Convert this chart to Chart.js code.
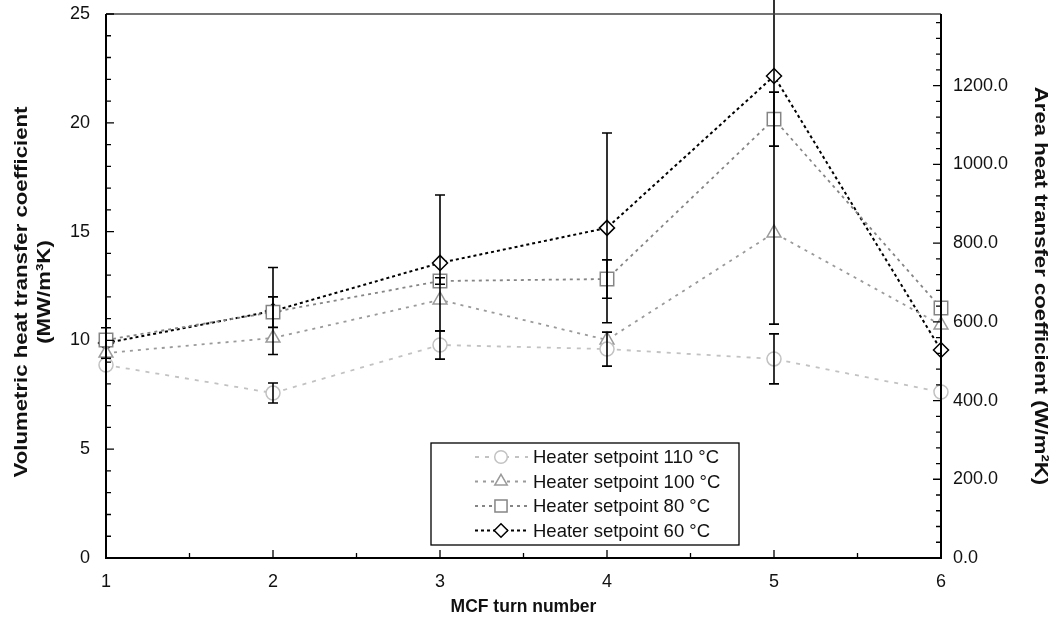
<!DOCTYPE html>
<html>
<head>
<meta charset="utf-8">
<title>MCF heat transfer coefficient</title>
<script src="https://cdn.jsdelivr.net/npm/chart.js@4"></script>
<style>
  html, body { margin: 0; padding: 0; background: #fff; }
  canvas { display: block; }
</style>
</head>
<body>
<canvas id="htcChart" width="1056" height="623"></canvas>
<script>
// turn numbers on the x axis
const turns = [1, 2, 3, 4, 5, 6];

// volumetric heat transfer coefficient (MW/m3K) per heater setpoint
const hts110 = [8.87, 7.58, 9.79, 9.60, 9.15, 7.63];
const hts100 = [9.42, 10.11, 11.86, 10.02, 14.94, 10.71];
const hts80 = [10.02, 11.30, 12.73, 12.82, 20.17, 11.49];
const hts60 = [9.88, 11.35, 13.56, 15.17, 22.15, 9.56];

// +/- error on each point (0 = no bar)
const err110 = [0, 0.46, 0.65, 0.78, 1.15, 0];
const err100 = [0, 0, 0, 0, 0, 0];
const err80 = [0, 0.70, 0.15, 0.88, 1.24, 0];
const err60 = [0.70, 2.00, 3.12, 4.36, 11.40, 0];

const seriesLabels = ['Heater setpoint 110 °C', 'Heater setpoint 100 °C', 'Heater setpoint 80 °C', 'Heater setpoint 60 °C'];

// tick values of both y axes
const volTicks = [0, 5, 10, 15, 20, 25];
const areaTicks = [0, 200, 400, 600, 800, 1000, 1200];

// secondary axis: area coefficient (W/m2K), same scale factor as the left one
const areaMax = 1382;
const volMax = 25;

const leftTitle = ['Volumetric heat transfer coefficient', '(MW/m³K)'];
const rightTitle = 'Area heat transfer coefficient (W/m²K)';

const FONT = "'Liberation Sans', Arial, sans-serif";

const toPoints = (vals) => vals.map((v, i) => ({ x: turns[i], y: v }));

const makeSet = (label, vals, errs, color, style, radius, dash, width) => ({
    label: label,
    data: toPoints(vals),
    errors: errs,
    borderColor: color,
    borderWidth: width,
    borderDash: dash,
    pointStyle: style,
    pointRadius: radius,
    pointHoverRadius: radius,
    pointBorderColor: color,
    pointBackgroundColor: '#ffffff',
    pointBorderWidth: 1.5,
    fill: false,
    tension: 0,
    clip: false,
    yAxisID: 'y',
});

// black error bars with caps
const errorBars = {
    id: 'errorBars',
    afterDatasetsDraw(chart) {
        const { ctx, scales } = chart;
        ctx.save();
        ctx.strokeStyle = '#000';
        ctx.lineWidth = 1.6;
        chart.data.datasets.forEach((ds) => {
            ds.data.forEach((p, i) => {
                const e = ds.errors[i];
                if (!e) return;
                const x = scales.x.getPixelForValue(p.x);
                const yTop = scales.y.getPixelForValue(p.y + e);
                const yBot = scales.y.getPixelForValue(p.y - e);
                ctx.beginPath();
                ctx.moveTo(x, yTop); ctx.lineTo(x, yBot);
                ctx.moveTo(x - 5, yTop); ctx.lineTo(x + 5, yTop);
                ctx.moveTo(x - 5, yBot); ctx.lineTo(x + 5, yBot);
                ctx.stroke();
            });
        });
        ctx.restore();
    }
};

// frame and inward tick marks
const frameTicks = {
    id: 'frameTicks',
    afterDraw(chart) {
        const { ctx, chartArea: a, scales } = chart;
        ctx.save();
        ctx.strokeStyle = '#444';
        ctx.lineWidth = 1.5;
        ctx.beginPath();
        ctx.moveTo(a.left, a.top); ctx.lineTo(a.right, a.top);
        ctx.stroke();
        ctx.strokeStyle = '#000';
        ctx.lineWidth = 2;
        ctx.beginPath();
        ctx.moveTo(a.left, a.top); ctx.lineTo(a.left, a.bottom);
        ctx.lineTo(a.right, a.bottom); ctx.lineTo(a.right, a.top);
        ctx.stroke();

        ctx.lineWidth = 1.3;
        ctx.beginPath();
        for (let v = 1; v <= 6.001; v += 0.5) {
            const x = scales.x.getPixelForValue(v);
            const len = Number.isInteger(v) ? 8 : 5;
            ctx.moveTo(x, a.bottom); ctx.lineTo(x, a.bottom - len);
        }
        for (let v = 0; v <= volMax; v += 1) {
            const y = scales.y.getPixelForValue(v);
            const len = v % 5 === 0 ? 8 : 5;
            ctx.moveTo(a.left, y); ctx.lineTo(a.left + len, y);
        }
        for (let v = 0; v <= areaMax; v += 40) {
            const y = scales.y2.getPixelForValue(v);
            const len = v % 200 === 0 ? 8 : 5;
            ctx.moveTo(a.right, y); ctx.lineTo(a.right - len, y);
        }
        ctx.stroke();
        ctx.restore();
    }
};

// rotated y axis titles, drawn a little stretched along the text
const axisTitles = {
    id: 'axisTitles',
    afterDraw(chart) {
        const { ctx } = chart;
        ctx.save();
        ctx.fillStyle = '#111';
        ctx.font = 'bold 18.5px ' + FONT;
        ctx.textAlign = 'center';
        ctx.textBaseline = 'middle';
        leftTitle.forEach((line, i) => {
            ctx.save();
            ctx.translate(22 + i * 23, 292);
            ctx.rotate(-Math.PI / 2);
            ctx.scale(1.2, 1);
            ctx.fillText(line, 0, 0);
            ctx.restore();
        });
        ctx.save();
        ctx.translate(1040, 286);
        ctx.rotate(Math.PI / 2);
        ctx.scale(1.2, 1);
        ctx.fillText(rightTitle, 0, 0);
        ctx.restore();
        ctx.restore();
    }
};

// boxed legend inside the plot, line sample with marker
const boxLegend = {
    id: 'boxLegend',
    afterDraw(chart) {
        const { ctx } = chart;
        const box = { left: 431, top: 443, right: 739, bottom: 545 };
        ctx.save();
        ctx.fillStyle = '#fff';
        ctx.fillRect(box.left, box.top, box.right - box.left, box.bottom - box.top);
        ctx.strokeStyle = '#000';
        ctx.lineWidth = 1.3;
        ctx.strokeRect(box.left, box.top, box.right - box.left, box.bottom - box.top);
        ctx.font = '18.5px ' + FONT;
        ctx.textBaseline = 'middle';
        chart.data.datasets.forEach((ds, i) => {
            const y = 457 + i * 24.5;
            ctx.strokeStyle = ds.borderColor;
            ctx.lineWidth = ds.borderWidth;
            ctx.setLineDash(ds.borderDash);
            ctx.beginPath();
            ctx.moveTo(475, y); ctx.lineTo(528, y);
            ctx.stroke();
            ctx.setLineDash([]);
            ctx.fillStyle = '#fff';
            ctx.strokeStyle = ds.pointBorderColor;
            ctx.lineWidth = 1.5;
            Chart.helpers.drawPoint(ctx, {
                pointStyle: ds.pointStyle,
                radius: ds.pointRadius * 0.9,
                rotation: 0,
                borderWidth: 1.5
            }, 501, y);
            ctx.fillStyle = '#111';
            ctx.fillText(ds.label, 533, y + 1);
        });
        ctx.restore();
    }
};

// y axes: no extra room reserved above/below for the end labels
const noVertPad = (scale) => { scale.paddingTop = 0; scale.paddingBottom = 0; };

const ctx = document.getElementById('htcChart').getContext('2d');
new Chart(ctx, {
    type: 'line',
    data: {
        datasets: [
            makeSet(seriesLabels[0], hts110, err110, '#c2c2c2', 'circle', 7, [4, 6], 1.8),
            makeSet(seriesLabels[1], hts100, err100, '#9a9a9a', 'triangle', 8, [3, 5], 1.8),
            makeSet(seriesLabels[2], hts80, err80, '#858585', 'rect', 9.5, [3, 4], 1.8),
            makeSet(seriesLabels[3], hts60, err60, '#000000', 'rectRot', 7.5, [3, 3], 2),
        ],
    },
    options: {
        responsive: false,
        animation: false,
        devicePixelRatio: 1,
        layout: { padding: { top: 14, left: 0, right: 0, bottom: 0 } },
        plugins: {
            legend: { display: false },
            tooltip: { enabled: false },
        },
        scales: {
            x: {
                type: 'linear',
                min: 1,
                max: 6,
                grid: { display: false, drawTicks: false },
                border: { display: false },
                ticks: { stepSize: 1, padding: 13, color: '#111', font: { family: FONT, size: 18 } },
                title: {
                    display: true,
                    text: 'MCF turn number',
                    color: '#111',
                    font: { family: FONT, size: 17.5, weight: 'bold', lineHeight: 1.25 },
                    padding: { top: 0, bottom: 5 },
                },
                afterFit(scale) { scale.height = 65; scale.paddingLeft = 0; scale.paddingRight = 0; },
            },
            y: {
                position: 'left',
                min: 0,
                max: volMax,
                grid: { display: false, drawTicks: false },
                border: { display: false },
                ticks: { padding: 16, color: '#111', font: { family: FONT, size: 18 } },
                afterBuildTicks(scale) { scale.ticks = volTicks.map((v) => ({ value: v })); },
                afterFit(scale) { scale.width = 106; noVertPad(scale); },
            },
            y2: {
                position: 'right',
                min: 0,
                max: areaMax,
                grid: { display: false, drawTicks: false },
                border: { display: false },
                ticks: {
                    padding: 12,
                    color: '#111',
                    font: { family: FONT, size: 18 },
                    callback: (v) => Number(v).toFixed(1),
                },
                afterBuildTicks(scale) { scale.ticks = areaTicks.map((v) => ({ value: v })); },
                afterFit(scale) { scale.width = 115; noVertPad(scale); },
            },
        },
    },
    plugins: [errorBars, frameTicks, axisTitles, boxLegend],
});
</script>
</body>
</html>
